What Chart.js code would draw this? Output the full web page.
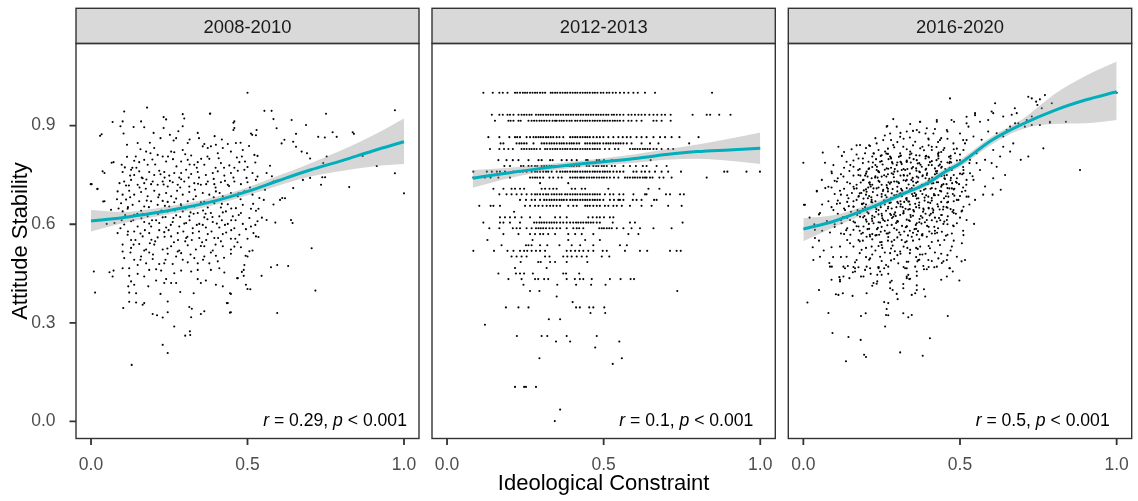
<!DOCTYPE html>
<html><head><meta charset="utf-8">
<script src="https://cdn.jsdelivr.net/npm/chart.js@4.4.1/dist/chart.umd.min.js"></script>
<style>
html,body{margin:0;padding:0;background:#fff;}
#wrap{position:relative;width:1138px;height:501px;overflow:hidden;background:#fff;}
canvas{position:absolute;left:0;top:0;}
</style></head><body>
<div id="wrap">
<canvas id="c1" width="1138" height="501"></canvas>
<canvas id="c2" width="1138" height="501"></canvas>
<canvas id="c3" width="1138" height="501"></canvas>
</div>
<script>
// ---------- DATA ----------
const panelLabels = ['2008-2010', '2012-2013', '2016-2020'];
const corrR = ['0.29', '0.1', '0.5'];
const corrP = '< 0.001';
const xTickValues = [0, 0.5, 1.0];
const yTickValues = [0, 0.3, 0.6, 0.9];

// Panel 2008-2010: [ideological constraint, attitude stability]
const stability2008 = [
[.50,1.00],[.179,.955],[.106,.943],[.232,.926],[.240,.919],[.293,.935],[.298,.922],[.381,.937],[.069,.911],[.101,.913],[.160,.913],[.458,.913],[.094,.898],[.136,.896],[.170,.895],[.232,.893],[.034,.874],[.104,.876],[.200,.878],[.279,.883],[.293,.898],[.341,.878],[.458,.893],[.511,.876],[.527,.871],[.115,.842],[.149,.847],[.272,.862],[.264,.855],[.309,.847],[.362,.844],[.399,.842],[.437,.844],[.463,.847],[.357,.837],[.202,.832],[.176,.821],[.190,.816],[.213,.811],[.229,.806],[.256,.821],[.266,.819],[.293,.826],[.320,.809],[.373,.832],[.383,.837],[.405,.816],[.421,.832],[.447,.821],[.485,.826],[.522,.811],[.138,.793],[.154,.789],[.170,.796],[.181,.781],[.240,.791],[.288,.791],[.309,.796],[.330,.781],[.341,.789],[.362,.781],[.378,.799],[.415,.786],[.442,.779],[.474,.789],[.492,.791],[.500,.774],[.532,.808],[.072,.789],[.043,.756],[.098,.781],[.101,.759],[.128,.766],[.138,.750],[.154,.761],[.165,.740],[.186,.759],[.202,.750],[.218,.763],[.234,.759],[.250,.748],[.266,.756],[.288,.756],[.304,.766],[.320,.753],[.341,.759],[.367,.750],[.389,.756],[.405,.761],[.426,.748],[.447,.756],[.469,.763],[.490,.766],[.516,.756],[.532,.745],
[.091,.725],[.106,.730],[.128,.735],[.149,.720],[.170,.725],[.197,.730],[.213,.720],[.229,.730],[.245,.715],[.261,.728],[.277,.720],[.298,.730],[.314,.715],[.330,.725],[.351,.720],[.373,.730],[.394,.722],[.415,.728],[.437,.720],[.458,.730],[.479,.722],[.500,.728],[.527,.735],
[.021,.708],[.002,.722],[.085,.700],[.101,.690],[.122,.702],[.138,.690],[.160,.698],[.181,.685],[.202,.702],[.218,.690],[.240,.695],[.256,.685],[.275,.702],[.293,.690],[.314,.698],[.335,.685],[.357,.695],[.378,.690],[.399,.700],[.421,.685],[.447,.695],[.469,.685],[.490,.700],[.516,.690],[.538,.680],
[.043,.670],[.096,.664],[.112,.675],[.133,.659],[.154,.670],[.170,.654],[.192,.670],[.213,.659],[.229,.671],[.250,.654],[.266,.667],[.288,.657],[.309,.670],[.330,.654],[.351,.667],[.373,.651],[.394,.664],[.415,.651],[.437,.661],[.463,.649],[.485,.659],[.511,.647],
[.064,.644],[.101,.639],[.117,.647],[.138,.629],[.160,.641],[.181,.624],[.208,.634],[.229,.621],[.245,.639],[.272,.627],[.293,.639],[.314,.624],[.341,.634],[.362,.621],[.383,.634],[.410,.624],[.431,.639],[.453,.624],[.479,.634],[.506,.619],[.527,.641],
[.075,.604],[.106,.599],[.128,.609],[.149,.593],[.170,.607],[.192,.593],[.218,.604],[.240,.590],[.261,.607],[.282,.593],[.304,.604],[.325,.588],[.346,.601],[.367,.590],[.389,.607],[.410,.590],[.437,.601],[.458,.588],[.485,.601],[.511,.593],[.532,.609],
[.085,.573],[.117,.568],[.138,.578],[.165,.563],[.186,.573],[.213,.560],[.234,.576],[.256,.563],[.277,.573],[.304,.558],[.325,.573],[.346,.558],[.373,.570],[.394,.558],[.421,.570],[.447,.556],[.474,.568],[.500,.556],[.527,.563],
[.101,.538],[.128,.528],[.154,.540],[.176,.523],[.202,.538],[.229,.523],[.256,.533],[.282,.520],[.309,.536],[.335,.523],[.362,.533],[.389,.520],[.421,.533],[.447,.523],[.479,.530],[.506,.518],
[.101,.517],[.126,.514],[.160,.502],[.170,.520],[.186,.514],[.245,.510],[.277,.517],[.288,.512],[.330,.497],[.362,.502],[.383,.514],[.399,.504],[.447,.510],[.500,.502],[.516,.520],[.106,.497],[.138,.492],[.149,.476],[.176,.481],[.197,.494],[.218,.479],[.234,.481],[.261,.479],[.293,.492],[.309,.484],[.341,.481],[.378,.481],[.405,.487],[.490,.476],[.009,.456],[.059,.454],[.072,.459],[.069,.441],[.101,.466],[.122,.466],[.149,.449],[.170,.441],[.186,.461],[.208,.463],[.224,.459],[.266,.451],[.288,.459],[.320,.456],[.341,.461],[.383,.461],[.410,.466],[.426,.453],[.469,.436],[.488,.461],[.488,.443],[.122,.443],[.128,.426],[.138,.416],[.208,.429],[.234,.421],[.256,.421],[.272,.421],[.240,.433],[.341,.433],[.351,.421],[.367,.429],[.399,.416],[.421,.411],[.495,.416],[.509,.402],[.013,.392],[.119,.411],[.122,.392],[.144,.390],[.183,.411],[.222,.388],[.285,.394],[.328,.390],[.447,.388],[.122,.364],[.144,.362],[.165,.355],[.170,.360],[.245,.365],[.437,.360],[.103,.345],[.197,.327],[.211,.323],[.229,.316],[.245,.332],[.314,.348],[.322,.343],[.320,.317],[.351,.327],[.362,.335],[.447,.332],[.266,.289],[.301,.261],[.316,.274],[.317,.263],[.229,.233],[.245,.208],[.130,.172],
[.717,.398],[.595,.330],[.575,.469],[.595,.476],[.630,.473],[.545,.443],[.500,.403],[.444,.390],[.444,.331],[.434,.360],[.467,.436],[.482,.455],[.494,.504],
[.971,.947],[.751,.936],[.772,.880],[.836,.880],[.840,.875],[.785,.866],[.726,.866],[.747,.864],[.687,.902],[.641,.917],[.655,.875],[.554,.945],[.577,.945],[.583,.920],[.380,.936],[.455,.909],[.455,.887],[.515,.872],[.529,.887],[.593,.892],[.609,.846],[.618,.857],[.646,.851],[.655,.836],[.673,.821],[.690,.816],[.700,.800],[.742,.786],[.753,.806],[.868,.808],[.913,.777],[.971,.755],[1.00,.694],[.825,.713],[.739,.743],[.748,.743],[.735,.720],[.700,.741],[.677,.735],[.646,.710],[.620,.679],[.611,.680],[.639,.613],[.644,.604],[.572,.778],[.578,.746],[.561,.756],[.583,.730],[.556,.705],[.552,.674],[.583,.660],[.604,.674],[.589,.605],[.561,.613],[.546,.620],[.535,.647],[.519,.573],[.535,.561],[.705,.527],[-.001,.722],[.020,.707],[.029,.869],[.037,.761],[.039,.669],[.066,.787],[.050,.601],
[.115,.805],[.145,.772],[.175,.708],[.205,.782],[.235,.742],[.262,.798],[.285,.712],[.315,.782],[.345,.742],[.372,.806],[.398,.712],[.425,.772],[.455,.742],[.482,.806],[.125,.682],[.155,.712],[.185,.652],[.215,.682],[.245,.668],[.272,.678],[.302,.648],[.332,.705],[.362,.668],[.392,.682],[.418,.612],[.448,.648],[.478,.676],[.135,.612],[.165,.632],[.195,.612],[.225,.642],[.255,.598],[.285,.622],[.315,.612],[.345,.578],[.372,.615],[.402,.602],[.432,.575],[.462,.612],[.142,.552],[.172,.582],[.205,.548],[.235,.562],[.265,.545],[.295,.578],[.322,.552],[.355,.545],[.385,.578],[.415,.548],[.448,.582],[.118,.578],[.098,.612],[.088,.648],[.112,.718],[.125,.748],[.158,.828],[.188,.848],[.222,.862],[.252,.872],[.315,.858],[.345,.862],[.395,.868],[.418,.858],[.478,.848],[.505,.838],[.525,.788],[.508,.712],[.518,.662],[.525,.598],[.495,.585],[.468,.545],[.158,.492],[.198,.508],[.238,.492],[.272,.502],[.318,.508],[.358,.492],[.425,.498],
[.132,.772],[.162,.742],[.192,.722],[.222,.752],[.252,.732],[.282,.742],[.312,.742],[.338,.772],[.368,.722],[.398,.772],[.428,.732],[.458,.772],[.118,.652],[.148,.632],[.178,.672],[.208,.612],[.238,.622],[.268,.642],[.298,.602],[.328,.632],[.358,.642],[.388,.622],[.418,.662],[.448,.612],[.128,.552],[.158,.572],[.188,.542],[.218,.582],[.248,.582],[.278,.552],[.308,.562],[.338,.598],[.368,.552],[.398,.538],[.428,.598],[.458,.532],
[.143,.806],[.196,.797],[.246,.806],[.301,.813],[.352,.799],[.408,.801],[.466,.803],[.121,.718],[.177,.736],[.232,.721],[.288,.737],[.342,.723],[.392,.738],[.441,.716],[.497,.741],[.109,.628],[.161,.618],[.214,.631],[.263,.619],[.318,.636],[.366,.632],[.421,.636],[.472,.628],[.136,.538],[.193,.553],[.244,.526],[.301,.548],[.351,.534],[.406,.558],[.461,.556],[.094,.588],[.083,.676],[.108,.773],[.273,.776],[.327,.676],[.236,.656],[.186,.602],[.411,.695],[.471,.694],[.357,.598],[.287,.661]
];

// Panel 2012-2013: stability takes discrete levels; constraint values per level
const levels2012 = [1.000,.933,.915,.865,.846,.829,.795,.777,.760,.742,.725,.708,.691,.674,.656,.638,.621,.605,.588,.570,.552,.536,.519,.502,.485,.467,.450,.433,.416,.397,.380,.363,.347,.330,.311,.294,.260,.243,.225,.192,.175,.105,.036,.001];
const constraint2012 = [
[.116,.146,.167,.178,.193,.217,.224,.233,.242,.249,.256,.265,.273,.281,.288,.297,.305,.313,.331,.337,.345,.352,.361,.369,.377,.384,.393,.401,.409,.416,.425,.433,.441,.448,.456,.465,.472,.480,.491,.499,.510,.518,.529,.539,.552,.565,.579,.595,.609,.632,.664,.846],
[.143,.167,.178,.193,.201,.212,.228,.238,.246,.254,.263,.270,.284,.292,.299,.307,.316,.323,.331,.339,.348,.355,.363,.371,.380,.387,.395,.403,.412,.419,.427,.435,.444,.451,.459,.467,.476,.483,.491,.499,.508,.515,.526,.533,.542,.552,.563,.579,.589,.600,.611,.621,.632,.646,.659,.671,.685,.696,.714,.784,.829,.840,.869,.905],
[.153,.196,.203,.212,.228,.235,.260,.270,.278,.286,.295,.302,.310,.318,.327,.337,.345,.350,.359,.366,.373,.382,.391,.398,.409,.416,.425,.433,.441,.448,.456,.465,.472,.480,.488,.497,.504,.512,.520,.529,.536,.544,.552,.563,.579,.589,.605,.621,.659,.669,.685,.714],
[.132,.167,.199,.217,.224,.233,.254,.265,.276,.284,.292,.299,.307,.316,.323,.331,.339,.350,.359,.371,.393,.401,.409,.416,.425,.433,.441,.448,.456,.467,.478,.488,.499,.515,.531,.547,.561,.574,.586,.605,.621,.637,.659,.680,.696,.717,.742,.803],
[.171,.180,.222,.231,.238,.246,.254,.276,.302,.310,.318,.327,.334,.342,.350,.359,.366,.373,.382,.391,.398,.405,.414,.422,.441,.448,.456,.465,.472,.480,.488,.499,.508,.515,.522,.531,.539,.547,.554,.563,.574,.589,.621,.648,.675,.773],
[.137,.167,.182,.196,.210,.238,.246,.254,.263,.270,.278,.286,.297,.313,.320,.329,.337,.345,.352,.361,.369,.377,.384,.393,.401,.409,.416,.425,.433,.441,.448,.456,.465,.472,.480,.488,.504,.518,.536,.547,.584,.593,.600,.608,.616,.625,.632,.640,.648,.659,.669,.685,.706,.722],
[.164,.190,.210,.228,.260,.292,.302,.329,.337,.366,.382,.398,.414,.444,.449,.478,.486,.501,.526,.552,.565,.650],
[.183,.201,.236,.244,.260,.270,.281,.288,.302,.310,.318,.327,.334,.342,.350,.359,.366,.382,.391,.398,.405,.414,.422,.446,.454,.467,.476,.483,.494,.501,.510,.526,.536,.563,.584,.603,.625,.637,.669,.701],
[.084,.127,.143,.159,.169,.185,.212,.224,.233,.242,.254,.270,.281,.288,.297,.307,.316,.323,.334,.350,.361,.369,.377,.384,.393,.401,.409,.416,.425,.433,.441,.448,.456,.465,.472,.480,.488,.497,.504,.512,.520,.531,.542,.552,.563,.595,.605,.621,.632,.646,.664,.685,.706,.747,.885,.895,.956,.999],
[.084,.121,.139,.164,.201,.265,.273,.281,.288,.297,.307,.327,.339,.355,.366,.393,.401,.409,.416,.425,.430,.437,.446,.454,.462,.469,.478,.486,.494,.501,.510,.520,.533,.547,.568,.576,.584,.593,.600,.608,.616,.625,.632,.637,.648,.656,.678,.691,.717,.829],
[.297,.387],
[.148,.180,.206,.217,.233,.246,.302,.313,.327,.339,.350,.398,.409,.430,.441,.515,.643,.678],
[.167,.190,.206,.222,.238,.254,.270,.281,.288,.297,.307,.316,.323,.334,.342,.350,.359,.366,.377,.384,.393,.401,.409,.416,.425,.433,.441,.448,.456,.465,.472,.480,.488,.504,.520,.531,.550,.563,.595,.632,.637,.699,.712,.744,.756],
[.233,.252,.270,.281,.297,.310,.318,.327,.334,.342,.350,.359,.366,.373,.382,.393,.401,.409,.416,.425,.433,.441,.448,.456,.465,.472,.480,.488,.499,.520,.533,.547,.552,.563,.593,.605,.621,.661,.669],
[.103,.139,.148,.169,.249,.265,.281,.292,.305,.318,.329,.339,.350,.361,.387,.403,.414,.441,.448,.456,.467,.478,.488,.504,.515,.531,.542,.558,.584,.621,.653,.706,.749],
[.214],
[.169,.185,.201,.217,.238,.265,.297,.345,.361,.382,.451,.465,.478,.488,.501,.520,.531],
[.116,.169,.180,.201,.233,.278,.286,.295,.302,.310,.318,.327,.334,.342,.350,.361,.371,.382,.393,.403,.412,.419,.427,.435,.444,.451,.459,.467,.478,.488,.529,.584,.600,.752],
[.135,.167,.210,.222,.233,.254,.270,.284,.292,.299,.307,.316,.327,.337,.350,.361,.382,.403,.414,.422,.435,.486,.494,.501,.510,.518,.526,.542,.563,.589,.616,.659,.717],
[.180,.228,.265,.281,.297,.307,.323,.345,.387,.409,.430,.467,.579,.611],
[.129,.273,.387,.441,.488],
[.174,.252,.260,.270,.297,.320,.359,.398,.425,.467,.552,.574],
[.084,.150,.193,.212,.233,.246,.256,.270,.284,.297,.313,.382,.395,.409,.422,.435,.451,.467,.497,.510,.568,.616,.639,.712,.733,.746],
[.206,.222,.238,.254,.313,.327,.371,.384,.398,.414,.430,.446,.494,.518],
[.235,.291,.299,.329,.345,.382,.448],
[.217,.318],
[.164,.220,.233,.246,.274,.371,.380,.422],
[.196,.238,.281,.291,.310,.323,.382,.408,.424,.435,.462,.520,.554,.586,.597],
[.244,.352,.412,.460,.506],
[.265,.295,.735],
[.350],
[.401],
[.188,.228,.260,.412,.424,.454,.467,.502],
[.458,.505],
[.325,.361],
[.121],
[.223,.302,.320,.382,.478],
[.348,.393,.550],
[.473],
[.295,.558],
[.529],
[.217,.246,.252,.284],
[.361],
[.344]
];

// Panel 2016-2020: [ideological constraint, attitude stability]
const stability2016 = [
[.000,.787],[.062,.818],[.043,.702],[.005,.659],[.112,.836],[.154,.828],[.181,.841],[.213,.838],[.234,.846],[.268,.899],[.298,.897],[.341,.905],[.373,.912],[.426,.912],[.481,.912],[.096,.780],[.069,.787],[.123,.808],[.138,.790],[.091,.755],[.059,.735],[.107,.730],[.080,.714],[.128,.745],[.160,.775],[.176,.800],[.197,.816],[.208,.790],[.224,.816],[.255,.856],[.277,.876],[.309,.866],[.330,.882],[.362,.887],[.394,.892],[.415,.876],[.458,.887],[.500,.876],[.521,.856],[.511,.826],[.527,.897],[.479,.846],[.436,.856],[.399,.861],[.357,.851],[.319,.836],[.287,.841],[.261,.821],[.245,.790],[.277,.806],[.309,.816],[.341,.821],[.373,.831],[.410,.836],[.447,.826],[.484,.816],[.500,.795],[.468,.790],[.431,.800],[.399,.805],[.362,.795],[.330,.790],[.298,.780],[.266,.770],[.234,.765],[.202,.760],[.176,.750],[.149,.724],[.170,.709],[.192,.735],[.218,.740],[.250,.745],[.282,.755],[.314,.765],[.346,.770],[.378,.775],[.410,.780],[.442,.775],[.474,.765],[.511,.765],[.521,.735],[.490,.740],[.458,.750],[.426,.755],[.394,.750],[.362,.745],[.330,.735],[.298,.730],[.266,.719],[.234,.709],[.202,.699],[.176,.684],[.144,.679],[.117,.664],[.096,.643],[.133,.643],[.160,.653],[.192,.664],[.218,.674],[.250,.684],[.282,.694],[.314,.704],[.346,.709],[.378,.719],[.410,.724],[.442,.719],[.474,.709],[.506,.699],[.527,.684],[.495,.674],[.463,.684],[.431,.689],[.399,.684],[.367,.679],[.335,.669],[.303,.664],[.271,.653],[.240,.643],[.208,.633],[.181,.623],[.149,.613],[.122,.603],[.160,.583],[.192,.593],[.224,.603],[.255,.613],[.287,.623],[.319,.633],[.351,.643],[.383,.648],[.415,.643],[.447,.653],[.479,.643],[.511,.653],[.521,.613],[.490,.603],[.458,.613],[.426,.608],[.394,.613],[.362,.603],[.330,.593],[.298,.583],[.266,.572],[.234,.567],[.202,.562],[.176,.552],[.149,.542],[.117,.532],[.186,.522],[.218,.532],[.250,.537],[.282,.547],[.314,.552],[.346,.562],[.378,.567],[.410,.572],[.442,.577],[.474,.572],[.511,.567],[.506,.542],[.474,.532],[.436,.537],[.404,.527],[.373,.532],[.341,.522],[.309,.517],[.277,.512],[.245,.501],[.213,.496],[.170,.491],[.138,.501],[.053,.501],[.091,.471],[.128,.471],[.165,.466],[.202,.471],[.240,.466],[.271,.471],[.303,.481],[.335,.486],[.367,.491],[.399,.491],[.431,.496],[.458,.491],[.490,.501],[.516,.491],[.032,.491],[.468,.466],[.426,.471],[.394,.463],[.357,.471],[.325,.466],
[.19,.80],[.23,.78],[.27,.83],[.31,.79],[.35,.84],[.39,.80],[.43,.85],[.47,.80],[.45,.74],[.41,.71],[.37,.76],[.33,.71],[.29,.76],[.25,.72],[.21,.77],[.17,.72],[.20,.66],[.24,.63],[.28,.68],[.32,.64],[.36,.69],[.40,.65],[.44,.70],[.48,.67],[.50,.62],[.46,.60],[.42,.58],[.38,.62],[.34,.58],[.30,.61],[.26,.58],[.22,.61],[.18,.58],[.14,.62],[.12,.69],[.16,.67],[.19,.55],[.23,.52],[.27,.55],[.31,.51],[.35,.55],[.39,.51],[.43,.55],[.47,.52],[.13,.57],[.10,.60],[.08,.67],[.11,.74],[.15,.78],[.21,.84],[.26,.87],[.32,.86],[.37,.88],[.42,.89],[.46,.86],[.49,.83],[.52,.80],[.52,.72],[.53,.66],[.51,.58],[.48,.55],[.44,.51],[.40,.47],[.36,.50],[.32,.47],[.28,.49],[.24,.47],[.20,.50],[.16,.47],[.12,.50],[.09,.53],[.06,.58],[.05,.63],[.07,.71],[.09,.76],[.13,.82],[.17,.84],[.22,.72],[.26,.66],[.30,.70],[.34,.66],[.38,.72],[.42,.77],[.46,.71],[.24,.76],[.28,.80],[.32,.75],[.36,.81],[.40,.84],[.44,.79],[.20,.69],[.18,.64],[.22,.57],[.26,.61],[.30,.56],[.34,.61],[.38,.57],[.42,.62],[.46,.65],[.48,.75],[.35,.73],[.31,.67],[.27,.70],[.23,.67],[.29,.63],[.33,.68],[.37,.65],[.41,.68],[.39,.74],[.25,.81],[.29,.73],[.33,.79],[.30,.85],[.36,.77],[.40,.78],[.44,.82],
[.255,.705],[.265,.745],[.275,.665],[.285,.785],[.295,.625],[.305,.725],[.315,.685],[.325,.765],[.335,.645],[.345,.735],[.355,.695],[.365,.785],[.375,.625],[.385,.705],[.395,.755],[.405,.665],[.215,.715],[.225,.655],[.235,.775],[.245,.605],[.205,.745],[.195,.625],[.185,.695],[.415,.725],[.425,.795],[.435,.645],[.445,.755],[.455,.685],[.465,.805],[.475,.725],[.265,.815],[.305,.805],[.345,.815],[.385,.825],[.425,.835],[.235,.585],[.275,.575],[.315,.595],[.355,.585],[.395,.595],[.285,.535],[.325,.545],[.365,.525],[.245,.545],[.205,.585],[.165,.605],[.155,.695],[.145,.655],[.175,.765],[.225,.815],
[.262,.688],[.272,.728],[.282,.648],[.292,.768],[.302,.608],[.312,.708],[.322,.668],[.332,.748],[.342,.628],[.352,.718],[.362,.678],[.372,.758],[.382,.638],[.392,.688],[.402,.738],[.412,.648],[.222,.698],[.232,.638],[.242,.758],[.252,.618],[.212,.728],[.202,.608],[.192,.678],[.422,.708],[.432,.778],[.442,.628],[.452,.738],[.462,.668],[.472,.788],[.482,.708],[.272,.798],[.312,.788],[.352,.798],[.392,.808],[.432,.818],[.242,.568],[.282,.598],[.322,.578],[.362,.568],[.402,.578],[.292,.518],[.332,.528],[.372,.508],[.252,.528],[.212,.568],[.172,.628],[.162,.708],[.152,.638],[.182,.748],[.232,.798],
[.257,.672],[.267,.712],[.277,.632],[.287,.752],[.297,.652],[.307,.692],[.317,.652],[.327,.732],[.337,.612],[.347,.692],[.357,.662],[.367,.742],[.377,.602],[.387,.672],[.397,.722],[.407,.632],[.217,.682],[.227,.622],[.237,.742],[.247,.652],[.207,.712],[.197,.652],[.187,.662],[.417,.692],[.427,.762],[.437,.612],[.447,.722],[.457,.652],[.467,.772],[.477,.692],[.497,.722],[.507,.752],[.517,.702],[.487,.632],[.507,.642],[.117,.702],[.107,.662],[.127,.622],[.137,.582],[.147,.762],
[.20,.832],[.24,.826],[.29,.834],[.33,.828],[.38,.836],[.41,.826],[.45,.832],[.48,.828],
[.17,.812],[.22,.806],[.27,.814],[.31,.808],[.34,.812],[.39,.806],[.43,.814],[.47,.808],[.50,.812],
[.16,.794],[.19,.786],[.25,.792],[.30,.788],[.33,.794],[.37,.786],[.41,.792],[.46,.788],[.49,.794],[.53,.786],
[.13,.772],[.18,.768],[.22,.774],[.26,.766],[.28,.772],[.32,.768],[.35,.774],[.39,.766],[.44,.772],[.47,.768],[.51,.774],
[.12,.752],[.16,.748],[.20,.754],[.23,.746],[.27,.752],[.31,.748],[.34,.754],[.38,.746],[.42,.752],[.45,.748],[.50,.754],[.54,.746],
[.10,.732],[.14,.728],[.19,.734],[.21,.726],[.24,.732],[.28,.728],[.32,.734],[.36,.726],[.40,.732],[.43,.728],[.47,.734],[.49,.726],
[.09,.712],[.13,.708],[.16,.714],[.20,.706],[.24,.712],[.27,.708],[.30,.714],[.34,.706],[.37,.712],[.39,.708],[.44,.714],[.48,.706],[.51,.712],
[.10,.692],[.14,.688],[.18,.694],[.21,.686],[.25,.692],[.29,.688],[.31,.694],[.35,.686],[.38,.692],[.42,.688],[.46,.694],[.50,.686],
[.11,.672],[.14,.668],[.17,.674],[.22,.666],[.26,.672],[.30,.668],[.33,.674],[.37,.666],[.41,.672],[.44,.668],[.49,.674],
[.09,.652],[.13,.648],[.16,.654],[.19,.646],[.23,.652],[.27,.648],[.31,.654],[.34,.646],[.36,.652],[.40,.648],[.43,.654],[.47,.646],
[.11,.632],[.15,.628],[.18,.634],[.22,.626],[.25,.632],[.28,.628],[.32,.634],[.35,.626],[.39,.632],[.44,.628],[.48,.634],
[.12,.612],[.16,.608],[.20,.614],[.24,.606],[.27,.612],[.30,.608],[.33,.614],[.37,.606],[.41,.612],[.45,.608],
[.10,.592],[.14,.588],[.17,.594],[.21,.586],[.25,.592],[.29,.588],[.33,.594],[.36,.586],[.40,.592],[.43,.588],[.48,.594],
[.12,.572],[.15,.568],[.19,.574],[.23,.566],[.27,.572],[.31,.568],[.35,.574],[.38,.566],[.42,.572],[.46,.568],
[.14,.552],[.18,.548],[.22,.554],[.25,.546],[.29,.552],[.33,.548],[.37,.554],[.41,.546],[.45,.552],
[.16,.532],[.20,.528],[.24,.534],[.28,.526],[.32,.532],[.36,.528],[.40,.534],
[.18,.512],[.22,.508],[.26,.514],[.30,.506],[.34,.512],[.38,.508],[.42,.514],[.46,.506],
[.21,.492],[.25,.488],[.29,.494],[.33,.486],[.37,.492],[.41,.488],
[.23,.862],[.28,.856],[.34,.864],[.40,.858],[.44,.862],[.51,.856],[.31,.878],[.35,.884],[.39,.876],[.46,.882],
[.185,.571],[.213,.563],[.247,.577],[.271,.561],[.306,.575],[.334,.566],[.366,.579],[.394,.562],[.427,.574],[.455,.565],
[.176,.593],[.209,.601],[.238,.589],[.268,.597],[.296,.604],[.327,.591],[.359,.598],[.388,.606],[.418,.592],[.447,.601],[.478,.596],
[.191,.621],[.219,.617],[.251,.626],[.283,.619],[.309,.628],[.343,.622],[.371,.616],[.403,.627],[.433,.619],[.461,.624],
[.173,.643],[.204,.637],[.233,.646],[.264,.641],[.293,.636],[.326,.647],[.353,.639],[.384,.644],[.414,.636],[.446,.645],[.476,.638],
[.188,.661],[.217,.668],[.246,.659],[.279,.666],[.311,.661],[.338,.669],[.369,.658],[.398,.667],[.428,.661],[.459,.666],
[.177,.686],[.206,.679],[.236,.688],[.266,.682],[.297,.689],[.328,.678],[.358,.686],[.387,.681],[.417,.688],[.449,.679],[.482,.687],
[.193,.703],[.224,.709],[.254,.701],[.285,.707],[.316,.702],[.346,.709],[.374,.701],[.406,.708],[.436,.702],[.466,.709],
[.183,.727],[.213,.721],[.243,.729],[.276,.723],[.303,.728],[.336,.721],[.365,.729],[.395,.723],[.426,.728],[.457,.722],[.487,.729],
[.197,.748],[.229,.742],[.258,.749],[.289,.743],[.321,.748],[.349,.741],[.381,.749],[.411,.742],[.441,.747],[.471,.741],
[.208,.768],[.239,.762],[.271,.769],[.301,.761],[.332,.768],[.361,.763],[.392,.769],[.423,.761],[.453,.768],
[.222,.788],[.253,.782],[.283,.789],[.314,.783],[.343,.788],[.374,.781],[.404,.789],[.436,.782],[.466,.786],
[.247,.808],[.279,.803],[.311,.809],[.339,.802],[.371,.809],[.401,.803],[.431,.808],
[.718,.988],[.729,.983],[.755,.980],[.771,.993],[.743,.973],[.747,.963],[.793,.968],[.761,.953],[.612,.968],[.606,.938],[.601,.943],[.638,.928],[.665,.933],[.681,.938],[.686,.907],[.713,.917],[.729,.928],[.739,.922],[.707,.897],[.729,.902],[.755,.902],[.787,.909],[.838,.912],[.766,.831],[.718,.806],[.694,.796],[.883,.765],[1.000,1.000],[.649,.887],[.670,.846],[.638,.867],[.606,.826],[.628,.806],[.617,.775],[.644,.750],[.606,.740],[.580,.715],[.630,.705],[.574,.690],[.604,.690],[.548,.674],[.521,.684],[.543,.735],[.564,.765],[.580,.796],[.553,.816],[.521,.907],[.548,.938],[.590,.882],[.543,.867],[.569,.857],[.516,.846],[.532,.796],[.511,.755],[.564,.912],[.660,.897],[.617,.877],[.590,.917],[.638,.836],[.660,.821],[.601,.786],[.553,.786],[.532,.755],[.676,.907],
[.468,.983],[.675,.953],[.787,.912],[.545,.601],[.505,.639],[.002,.659],[.287,.920],[.266,.897],[.372,.912],[.426,.917],[.473,.917],[.521,.927],[.548,.932],[.043,.700],[.053,.634],[.037,.583],[.037,.558],
[.013,.362],[.050,.400],[.080,.330],[.093,.269],[.144,.257],[.183,.248],[.194,.203],[.200,.196],[.136,.183],[.309,.210],[.381,.200],[.404,.253],[.461,.321],[.261,.289],[.184,.321],[.199,.329],[.264,.324],[.271,.323],[.319,.329],[.335,.317],[.346,.324],[.258,.363],[.271,.360],[.266,.342],[.157,.382],[.126,.390],[.104,.387],[.112,.385],[.202,.390],[.220,.413],[.234,.419],[.224,.421],[.277,.423],[.282,.428],[.298,.388],[.301,.372],[.319,.418],[.319,.405],[.346,.385],[.357,.390],[.362,.414],[.362,.400],[.389,.380],[.385,.402],[.330,.436],[.341,.434],[.362,.443],[.335,.446],[.271,.449],[.250,.446],[.236,.446],[.215,.449],[.192,.441],[.184,.441],[.165,.456],[.158,.454],[.147,.436],[.128,.441],[.117,.426],[.115,.439],[.090,.431],[.258,.466],[.245,.456],[.264,.476],[.240,.469],[.213,.466],[.197,.461],[.176,.469],[.165,.484],[.142,.473],[.133,.466],[.085,.471],[.083,.482],[.330,.466],[.362,.456],[.364,.487],[.383,.473],[.385,.463],[.418,.469],[.442,.482],[.447,.487],[.466,.466],[.477,.456],[.458,.441],[.440,.431],[.498,.429],[.505,.487],[.330,.441],[.338,.433],[.285,.400],[.277,.405],[.236,.426],[.117,.431],
[.02,.62],[.035,.60],[.06,.66],[.075,.61],[.085,.575],[.05,.55],[.065,.52],[.095,.50],[.03,.53]
];

// Smoothed fits (loess) with 95% confidence band
const fitX2008 = [0, .1, .2, .3, .4, .5, .6, .7, .8, .9, 1.0];
const fit2008 = [.610, .620, .634, .651, .672, .700, .733, .765, .793, .823, .851];
const upper2008 = [.643, .637, .647, .663, .684, .712, .748, .785, .825, .870, .922];
const lower2008 = [.578, .603, .622, .639, .660, .688, .718, .745, .762, .776, .783];

const fitX2012 = [.082, .2, .3, .4, .5, .6, .7, .8, .9, 1.0];
const fit2012 = [.740, .757, .770, .781, .790, .800, .812, .821, .826, .831];
const upper2012 = [.765, .772, .781, .791, .801, .813, .828, .843, .860, .879];
const lower2012 = [.711, .741, .759, .771, .779, .787, .796, .799, .793, .783];

const fitX2016 = [0, .1, .2, .3, .4, .45, .5, .6, .7, .8, .9, 1.0];
const fit2016 = [.585, .610, .645, .685, .727, .758, .785, .855, .905, .946, .978, 1.003];
const upper2016 = [.618, .628, .657, .694, .737, .768, .796, .866, .920, .995, 1.051, 1.095];
const lower2016 = [.548, .592, .633, .676, .717, .748, .774, .842, .890, .905, .907, .917];

// ---------- DRAWING ----------
const FONT = '"Liberation Sans", Arial, Helvetica, sans-serif';
Chart.defaults.font.family = FONT;

const points2012 = [];
levels2012.forEach((lv, i) => constraint2012[i].forEach(x => points2012.push([x, lv])));

const facetPlugin = {
  id: 'facet',
  afterDraw(chart, args, o) {
    const {ctx, chartArea: a} = chart;
    const xs = chart.scales.x, ys = chart.scales.y;
    ctx.save();
    ctx.strokeStyle = '#333333';
    ctx.lineWidth = 1.8;
    // tick marks
    ctx.beginPath();
    xTickValues.forEach(v => { const px = xs.getPixelForValue(v); ctx.moveTo(px, a.bottom); ctx.lineTo(px, a.bottom + 6.5); });
    if (o.yAxis) yTickValues.forEach(v => { const py = ys.getPixelForValue(v); ctx.moveTo(a.left, py); ctx.lineTo(a.left - 6.5, py); });
    ctx.stroke();
    // strip + panel border
    const stripTop = 8.3;
    ctx.fillStyle = '#d9d9d9';
    ctx.fillRect(a.left, stripTop, a.right - a.left, a.top - stripTop);
    ctx.lineWidth = 1.4;
    ctx.strokeRect(a.left, stripTop, a.right - a.left, a.top - stripTop);
    ctx.strokeRect(a.left, a.top, a.right - a.left, a.bottom - a.top);
    ctx.fillStyle = '#1a1a1a';
    ctx.font = '18.4px ' + FONT;
    ctx.textAlign = 'center';
    ctx.textBaseline = 'alphabetic';
    ctx.fillText(o.label, (a.left + a.right) / 2, 32.7);
    // correlation annotation
    let x = xs.getPixelForValue(0.55);
    const yb = ys.getPixelForValue(0) + 4.5;
    const parts = [['r', true], [' = ' + o.r + ', ', false], ['p', true], [' ' + corrP, false]];
    ctx.textAlign = 'left';
    ctx.fillStyle = '#000000';
    for (const [t, it] of parts) {
      ctx.font = (it ? 'italic ' : '') + '17.6px ' + FONT;
      ctx.fillText(t, x, yb);
      x += ctx.measureText(t).width;
    }
    ctx.restore();
  }
};

const panels = [
  {id: 'c1', left: 76, right: 419, label: panelLabels[0], r: corrR[0], pts: stability2008, fx: fitX2008, fy: fit2008, up: upper2008, lo: lower2008, yAxis: true, xTitle: false},
  {id: 'c2', left: 432, right: 775.3, label: panelLabels[1], r: corrR[1], pts: points2012, fx: fitX2012, fy: fit2012, up: upper2012, lo: lower2012, yAxis: false, xTitle: true},
  {id: 'c3', left: 788.3, right: 1131.7, label: panelLabels[2], r: corrR[2], pts: stability2016, fx: fitX2016, fy: fit2016, up: upper2016, lo: lower2016, yAxis: false, xTitle: false}
];

panels.forEach(p => {
  const mk = arr => p.fx.map((x, i) => ({x, y: arr[i]}));
  new Chart(document.getElementById(p.id), {
    type: 'scatter',
    data: {datasets: [
      {type: 'scatter', data: p.pts.map(([x, y]) => ({x, y})), pointRadius: 1.05, pointBackgroundColor: '#000', pointBorderWidth: 0, order: 3},
      {type: 'line', data: mk(p.lo), borderWidth: 0, borderColor: 'rgba(0,0,0,0)', pointRadius: 0, fill: false, cubicInterpolationMode: 'monotone', order: 2},
      {type: 'line', data: mk(p.up), borderWidth: 0, borderColor: 'rgba(0,0,0,0)', pointRadius: 0, fill: '-1', backgroundColor: 'rgba(153,153,153,0.4)', cubicInterpolationMode: 'monotone', order: 2},
      {type: 'line', data: mk(p.fy), borderWidth: 3, borderColor: '#00AFBB', pointRadius: 0, fill: false, cubicInterpolationMode: 'monotone', order: 1}
    ]},
    options: {
      responsive: false, animation: false, events: [],
      layout: {padding: {left: p.yAxis ? 0 : p.left, right: 1138 - p.right, top: 43.5, bottom: 0}},
      plugins: {legend: {display: false}, tooltip: {enabled: false}, facet: {label: p.label, r: p.r, yAxis: p.yAxis}},
      scales: {
        x: {
          type: 'linear', min: -0.048, max: 1.048,
          afterBuildTicks: s => { s.ticks = xTickValues.map(v => ({value: v})); },
          afterFit: s => { s.height = 62.5; },
          ticks: {color: '#4d4d4d', font: {size: 17.5}, padding: 8.6, maxRotation: 0, autoSkip: false, callback: v => Number(v).toFixed(1)},
          grid: {display: false},
          border: {display: false},
          title: {display: p.xTitle, text: 'Ideological Constraint', color: '#000', font: {size: 22}, padding: {top: 0, bottom: 4}}
        },
        y: {
          display: p.yAxis,
          min: -0.052, max: 1.150,
          afterBuildTicks: s => { s.ticks = yTickValues.map(v => ({value: v})); },
          afterFit: s => { if (p.yAxis) s.width = 76; },
          ticks: {color: '#4d4d4d', font: {size: 17.5}, padding: 12.5, autoSkip: false, callback: v => Number(v).toFixed(1)},
          grid: {display: false},
          border: {display: false},
          title: {display: true, text: 'Attitude Stability', color: '#000', font: {size: 22}, padding: {top: 7.5, bottom: 0}}
        }
      }
    },
    plugins: [facetPlugin]
  });
});
</script>
</body></html>
